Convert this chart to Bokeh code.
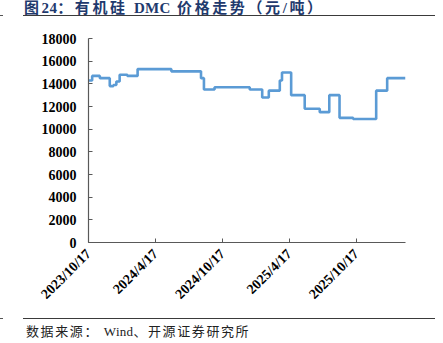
import pandas as pd
from bokeh.plotting import figure
from bokeh.models import Range1d, FixedTicker, Div, ColumnDataSource
from bokeh.layouts import column
from bokeh.embed import file_html
from bokeh.resources import INLINE
from math import pi

# ---- data ----
dates = ["2023-10-17", "2023-10-27", "2023-11-17", "2023-12-14", "2023-12-24",
         "2024-01-01", "2024-01-10", "2024-01-31", "2024-02-28", "2024-05-30",
         "2024-08-19", "2024-08-27", "2024-09-25", "2024-12-30", "2025-02-02",
         "2025-02-20", "2025-03-22", "2025-03-28", "2025-04-22", "2025-05-29",
         "2025-07-09", "2025-08-04", "2025-09-01", "2025-10-08", "2025-12-10",
         "2026-01-09", "2026-02-28"]
prices = [14300, 14700, 14500, 13800, 13900,
          14200, 14800, 14700, 15300, 15100,
          14500, 13500, 13700, 13500, 12800,
          13400, 14300, 15000, 13000, 11800,
          11500, 13000, 11000, 10900, 13400,
          14500, 14500]
tick_dates = ["2023-10-17", "2024-04-17", "2024-10-17", "2025-04-17", "2025-10-17"]
tick_labels = ["2023/10/17", "2024/4/17", "2024/10/17", "2025/4/17", "2025/10/17"]
y_ticks = [0, 2000, 4000, 6000, 8000, 10000, 12000, 14000, 16000, 18000]

title_parts = ["图", "24", "：有机硅 ", "DMC", " 价格走势（元/吨）"]
source_parts = ["数据来源： ", "Wind", "、开源证券研究所"]

x_start = "2023-10-17"
x_end = "2026-02-28"

# ---- figure ----
src = ColumnDataSource(dict(x=pd.to_datetime(dates), y=prices))

def ms(d):
    return pd.Timestamp(d).value / 1e6

p = figure(width=443, height=293, x_axis_type="datetime",
           output_backend="svg", toolbar_location=None,
           x_range=Range1d(pd.Timestamp(x_start), pd.Timestamp(x_end)),
           y_range=Range1d(0, 18000),
           min_border_left=88, min_border_right=38,
           min_border_top=21, min_border_bottom=67)
p.outline_line_color = None
p.xgrid.visible = False
p.ygrid.visible = False
p.background_fill_color = "white"
p.border_fill_color = "white"

p.step(x="x", y="y", source=src, mode="after", line_color="#5B9BD5", line_width=2.6)

tick_ms = [ms(d) for d in tick_dates]
p.xaxis.ticker = FixedTicker(ticks=tick_ms)
p.xaxis.major_label_overrides = {t: l for t, l in zip(tick_ms, tick_labels)}
p.xaxis.major_label_orientation = pi / 4
p.yaxis.ticker = FixedTicker(ticks=y_ticks)

for ax in (p.xaxis[0], p.yaxis[0]):
    ax.axis_line_color = "#595959"
    ax.axis_line_width = 1.2
    ax.major_tick_line_color = "#595959"
    ax.major_tick_in = 4
    ax.major_tick_out = 0
    ax.minor_tick_line_color = None
    ax.major_label_text_font = "Liberation Serif"
    ax.major_label_text_font_style = "bold"
    ax.major_label_text_color = "black"

p.yaxis.major_label_text_font_size = "14px"
p.yaxis.major_label_standoff = 12
p.xaxis.major_label_text_font_size = "14px"
p.xaxis.major_label_standoff = 9


def spans(parts, cjk_spacing):
    out = []
    for i, t in enumerate(parts):
        ls = cjk_spacing if i % 2 == 0 else 0.3
        out.append('<span style="letter-spacing:%spx;">%s</span>' % (ls, t))
    return "".join(out)


title_html = (
    '<div style="position:relative;width:443px;height:17px;overflow:visible;">'
    '<div style="position:absolute;left:0px;top:15px;width:3px;border-top:1px solid #555;"></div>'
    '<div style="position:absolute;left:23px;top:15px;width:412px;border-top:1.5px solid #3a3a3a;"></div>'
    '<div style="position:absolute;left:24px;top:0px;white-space:pre;'
    "font-family:'Liberation Serif','Noto Sans CJK SC';font-weight:bold;font-size:15px;"
    'line-height:16px;color:#1f3a6e;">' + spans(title_parts, 2.6) + '</div>'
    '</div>'
)
footer_html = (
    '<div style="position:relative;width:443px;height:33px;overflow:visible;">'
    '<div style="position:absolute;left:0px;top:8px;width:3px;border-top:1px solid #555;"></div>'
    '<div style="position:absolute;left:23px;top:8px;width:412px;border-top:1.5px solid #3a3a3a;"></div>'
    '<div style="position:absolute;left:26px;top:14px;white-space:pre;'
    "font-family:'Liberation Serif','Noto Sans CJK SC';font-size:13px;"
    'line-height:16px;color:#222;">' + spans(source_parts, 1.6) + '</div>'
    '</div>'
)

title_div = Div(text=title_html, width=443, height=17, margin=(0, 0, 0, 0))
footer_div = Div(text=footer_html, width=443, height=33, margin=(0, 0, 0, 0))

layout = column(title_div, p, footer_div, spacing=0, margin=(0, 0, 0, 0))

open("out.html", "w").write(file_html(layout, INLINE))
